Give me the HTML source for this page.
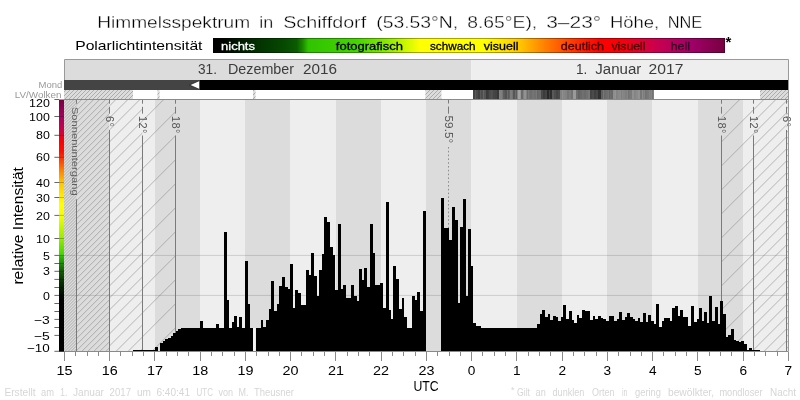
<!DOCTYPE html><html><head><meta charset="utf-8"><title>Himmelsspektrum</title>
<style>html,body{margin:0;padding:0;background:#fff;overflow:hidden}svg{display:block;will-change:transform}text{font-family:"Liberation Sans",sans-serif}</style>
</head><body>
<svg width="800" height="400" viewBox="0 0 800 400">
<defs>
<linearGradient id="lg" x1="0" x2="1" y1="0" y2="0"><stop offset="0" stop-color="#000000"/><stop offset="0.02" stop-color="#000400"/><stop offset="0.053" stop-color="#011c00"/><stop offset="0.092" stop-color="#033400"/><stop offset="0.14" stop-color="#064a00"/><stop offset="0.164" stop-color="#0a5c00"/><stop offset="0.176" stop-color="#1c8c00"/><stop offset="0.186" stop-color="#30c400"/><stop offset="0.28" stop-color="#44d400"/><stop offset="0.344" stop-color="#90ec00"/><stop offset="0.375" stop-color="#c8f800"/><stop offset="0.404" stop-color="#ffff00"/><stop offset="0.53" stop-color="#ffff00"/><stop offset="0.598" stop-color="#ffc800"/><stop offset="0.648" stop-color="#ff8000"/><stop offset="0.71" stop-color="#ff3000"/><stop offset="0.756" stop-color="#ff0000"/><stop offset="0.795" stop-color="#f80008"/><stop offset="0.832" stop-color="#e00030"/><stop offset="0.869" stop-color="#c80050"/><stop offset="0.934" stop-color="#a00068"/><stop offset="1" stop-color="#780040"/></linearGradient>
<pattern id="h0" width="4" height="4" patternUnits="userSpaceOnUse" patternTransform="translate(0 0)"><path d="M-1 5 L5 -1 M-1 1 L1 -1 M3 5 L5 3" stroke="#8c8c8c" stroke-width="0.6" fill="none"/></pattern>
<pattern id="hA" width="3" height="3" patternUnits="userSpaceOnUse" patternTransform="translate(2.4 0)"><path d="M-1 4 L4 -1 M-1 1 L1 -1 M2 4 L4 2" stroke="#8c8c8c" stroke-width="0.6" fill="none"/></pattern>
<pattern id="h1" width="6" height="6" patternUnits="userSpaceOnUse" patternTransform="translate(1.2 0)"><path d="M-1 7 L7 -1 M-1 1 L1 -1 M5 7 L7 5" stroke="#8c8c8c" stroke-width="0.6" fill="none"/></pattern>
<pattern id="h2" width="12" height="12" patternUnits="userSpaceOnUse" patternTransform="translate(11.4 0)"><path d="M-1 13 L13 -1 M-1 1 L1 -1 M11 13 L13 11" stroke="#8c8c8c" stroke-width="0.6" fill="none"/></pattern>
<pattern id="h3" width="24" height="24" patternUnits="userSpaceOnUse" patternTransform="translate(23.3 0)"><path d="M-1 25 L25 -1 M-1 1 L1 -1 M23 25 L25 23" stroke="#8c8c8c" stroke-width="0.6" fill="none"/></pattern>
</defs>
<rect width="800" height="400" fill="#fff"/>
<text x="97.2" y="28" font-size="17" fill="#000" text-anchor="start" textLength="153" lengthAdjust="spacingAndGlyphs" stroke="#fff" stroke-width="0.35">Himmelsspektrum</text>
<text x="259.2" y="28" font-size="17" fill="#000" text-anchor="start" textLength="14" lengthAdjust="spacingAndGlyphs" stroke="#fff" stroke-width="0.35">in</text>
<text x="283.2" y="28" font-size="17" fill="#000" text-anchor="start" textLength="83" lengthAdjust="spacingAndGlyphs" stroke="#fff" stroke-width="0.35">Schiffdorf</text>
<text x="376.2" y="28" font-size="17" fill="#000" text-anchor="start" textLength="82" lengthAdjust="spacingAndGlyphs" stroke="#fff" stroke-width="0.35">(53.53°N,</text>
<text x="467.2" y="28" font-size="17" fill="#000" text-anchor="start" textLength="70" lengthAdjust="spacingAndGlyphs" stroke="#fff" stroke-width="0.35">8.65°E),</text>
<text x="546.2" y="28" font-size="17" fill="#000" text-anchor="start" textLength="55" lengthAdjust="spacingAndGlyphs" stroke="#fff" stroke-width="0.35">3–23°</text>
<text x="610.0" y="28" font-size="17" fill="#000" text-anchor="start" textLength="49.2" lengthAdjust="spacingAndGlyphs" stroke="#fff" stroke-width="0.35">Höhe,</text>
<text x="667.7" y="28" font-size="17" fill="#000" text-anchor="start" textLength="34.5" lengthAdjust="spacingAndGlyphs" stroke="#fff" stroke-width="0.35">NNE</text>
<text x="75.2" y="50" font-size="13.6" fill="#000" text-anchor="start" textLength="127.3" lengthAdjust="spacingAndGlyphs">Polarlichtintensität</text>
<rect x="213" y="38" width="512" height="15" fill="url(#lg)"/>
<rect x="213.5" y="38.5" width="511" height="14" fill="none" stroke="#000" stroke-opacity="0.35" stroke-width="1"/>
<text x="221" y="49.8" font-size="11.2" fill="#fff" text-anchor="start" textLength="34" lengthAdjust="spacingAndGlyphs" stroke="#fff" stroke-width="0.3">nichts</text>
<text x="335.8" y="49.8" font-size="11.2" fill="#000" text-anchor="start" textLength="67.2" lengthAdjust="spacingAndGlyphs" stroke="#000" stroke-width="0.3">fotografisch</text>
<text x="430" y="49.8" font-size="11.2" fill="#000" text-anchor="start" textLength="45.5" lengthAdjust="spacingAndGlyphs" stroke="#000" stroke-width="0.3">schwach</text>
<text x="483.8" y="49.8" font-size="11.2" fill="#000" text-anchor="start" textLength="34.7" lengthAdjust="spacingAndGlyphs" stroke="#000" stroke-width="0.3">visuell</text>
<text x="560.8" y="49.8" font-size="11.2" fill="#4a0000" text-anchor="start" textLength="43.2" lengthAdjust="spacingAndGlyphs" stroke="#4a0000" stroke-width="0.3">deutlich</text>
<text x="611.5" y="49.8" font-size="11.2" fill="#4a0000" text-anchor="start" textLength="34.0" lengthAdjust="spacingAndGlyphs" stroke="#4a0000" stroke-width="0.3">visuell</text>
<text x="670.7" y="49.8" font-size="11.2" fill="#380024" text-anchor="start" textLength="19.3" lengthAdjust="spacingAndGlyphs" stroke="#380024" stroke-width="0.3">hell</text>
<text x="725.4" y="47.2" font-size="15" fill="#000" text-anchor="start" font-weight="bold">*</text>
<rect x="64" y="60" width="407.25" height="20" fill="#dcdcdc"/>
<rect x="471.25" y="60" width="316.75" height="20" fill="#eeeeee"/>
<path d="M64.5 80 V59.5 H788.5 V99.5" fill="none" stroke="#999" stroke-width="1"/>
<text x="198" y="74" font-size="13.8" fill="#3c3c3c" text-anchor="start" textLength="19" lengthAdjust="spacingAndGlyphs">31.</text>
<text x="228" y="74" font-size="13.8" fill="#3c3c3c" text-anchor="start" textLength="66" lengthAdjust="spacingAndGlyphs">Dezember</text>
<text x="303" y="74" font-size="13.8" fill="#3c3c3c" text-anchor="start" textLength="34" lengthAdjust="spacingAndGlyphs">2016</text>
<text x="576" y="74" font-size="13.8" fill="#3c3c3c" text-anchor="start" textLength="11.299999999999955" lengthAdjust="spacingAndGlyphs">1.</text>
<text x="595.3" y="74" font-size="13.8" fill="#3c3c3c" text-anchor="start" textLength="46.0" lengthAdjust="spacingAndGlyphs">Januar</text>
<text x="648.6" y="74" font-size="13.8" fill="#3c3c3c" text-anchor="start" textLength="34.799999999999955" lengthAdjust="spacingAndGlyphs">2017</text>
<rect x="64" y="80" width="135.4" height="10" fill="#444"/>
<rect x="199.4" y="80" width="588.6" height="10" fill="#000"/>
<path d="M189.6 85 L199.6 80.6 V89.4 Z" fill="#fff" stroke="#000" stroke-width="0.6"/>
<text x="62.3" y="87.8" font-size="9.5" fill="#999" text-anchor="end">Mond</text>
<text x="61.5" y="97.6" font-size="9.5" fill="#999" text-anchor="end" textLength="46.7" lengthAdjust="spacingAndGlyphs">LV/Wolken</text>
<rect x="64" y="90" width="724" height="9.5" fill="#fff"/>
<rect x="64" y="90" width="69" height="9.5" fill="#dcdcdc"/>
<rect x="64" y="90" width="69" height="9.5" fill="url(#h0)"/>
<rect x="157.5" y="90" width="2.0" height="9.5" fill="#dcdcdc"/>
<rect x="157.5" y="90" width="2.0" height="9.5" fill="url(#h0)"/>
<rect x="253" y="90" width="2.5" height="9.5" fill="#dcdcdc"/>
<rect x="253" y="90" width="2.5" height="9.5" fill="url(#h0)"/>
<rect x="425.4" y="90" width="16.0" height="9.5" fill="#dcdcdc"/>
<rect x="425.4" y="90" width="16.0" height="9.5" fill="url(#h0)"/>
<rect x="760" y="90" width="28" height="9.5" fill="#dcdcdc"/>
<rect x="760" y="90" width="28" height="9.5" fill="url(#h0)"/>
<rect x="473.0" y="90" width="2.8" height="9.3" fill="#444444"/>
<rect x="475.5" y="90" width="2.8" height="9.3" fill="#4a4a4a"/>
<rect x="478.0" y="90" width="2.8" height="9.3" fill="#3f3f3f"/>
<rect x="480.5" y="90" width="3.05" height="9.3" fill="#4e4e4e"/>
<rect x="483.25" y="90" width="3.05" height="9.3" fill="#545454"/>
<rect x="486.0" y="90" width="3.05" height="9.3" fill="#3a3a3a"/>
<rect x="488.75" y="90" width="2.3" height="9.3" fill="#4b4b4b"/>
<rect x="490.75" y="90" width="2.3" height="9.3" fill="#525252"/>
<rect x="492.75" y="90" width="2.3" height="9.3" fill="#464646"/>
<rect x="494.75" y="90" width="2.55" height="9.3" fill="#434343"/>
<rect x="497.0" y="90" width="2.55" height="9.3" fill="#383838"/>
<rect x="499.25" y="90" width="3.3" height="9.3" fill="#808080"/>
<rect x="502.25" y="90" width="2.8" height="9.3" fill="#5e5e5e"/>
<rect x="504.75" y="90" width="2.8" height="9.3" fill="#535353"/>
<rect x="507.25" y="90" width="2.8" height="9.3" fill="#5a5a5a"/>
<rect x="509.75" y="90" width="3.3" height="9.3" fill="#7c7c7c"/>
<rect x="512.75" y="90" width="2.719999999999959" height="9.3" fill="#575757"/>
<rect x="515.17" y="90" width="2.7300000000000635" height="9.3" fill="#5d5d5d"/>
<rect x="517.6" y="90" width="1.9999999999999318" height="9.3" fill="#a2a2a2"/>
<rect x="519.3" y="90" width="2.0000000000000453" height="9.3" fill="#969696"/>
<rect x="521.0" y="90" width="2.9000000000000226" height="9.3" fill="#6a6a6a"/>
<rect x="523.6" y="90" width="2.949999999999977" height="9.3" fill="#929292"/>
<rect x="526.25" y="90" width="2.1700000000000044" height="9.3" fill="#6c6c6c"/>
<rect x="528.12" y="90" width="2.1799999999999953" height="9.3" fill="#727272"/>
<rect x="530.0" y="90" width="2.3" height="9.3" fill="#6d6d6d"/>
<rect x="532.0" y="90" width="2.3" height="9.3" fill="#747474"/>
<rect x="534.0" y="90" width="2.6300000000000407" height="9.3" fill="#707070"/>
<rect x="536.33" y="90" width="2.639999999999918" height="9.3" fill="#656565"/>
<rect x="538.67" y="90" width="2.6300000000000407" height="9.3" fill="#6b6b6b"/>
<rect x="541.0" y="90" width="2.3" height="9.3" fill="#484848"/>
<rect x="543.0" y="90" width="2.3" height="9.3" fill="#3c3c3c"/>
<rect x="545.0" y="90" width="2.3" height="9.3" fill="#434343"/>
<rect x="547.0" y="90" width="2.8" height="9.3" fill="#282828"/>
<rect x="549.5" y="90" width="2.8" height="9.3" fill="#2e2e2e"/>
<rect x="552.0" y="90" width="2.3" height="9.3" fill="#595959"/>
<rect x="554.0" y="90" width="2.3" height="9.3" fill="#4e4e4e"/>
<rect x="556.0" y="90" width="2.3" height="9.3" fill="#444444"/>
<rect x="558.0" y="90" width="2.3" height="9.3" fill="#4a4a4a"/>
<rect x="560.0" y="90" width="2.8" height="9.3" fill="#808080"/>
<rect x="562.5" y="90" width="2.8" height="9.3" fill="#868686"/>
<rect x="565.0" y="90" width="2.3" height="9.3" fill="#828282"/>
<rect x="567.0" y="90" width="2.3" height="9.3" fill="#767676"/>
<rect x="569.0" y="90" width="2.3" height="9.3" fill="#7d7d7d"/>
<rect x="571.0" y="90" width="2.3" height="9.3" fill="#727272"/>
<rect x="573.0" y="90" width="3.3" height="9.3" fill="#9a9a9a"/>
<rect x="576.0" y="90" width="2.3" height="9.3" fill="#6e6e6e"/>
<rect x="578.0" y="90" width="2.3" height="9.3" fill="#636363"/>
<rect x="580.0" y="90" width="2.3" height="9.3" fill="#6a6a6a"/>
<rect x="582.0" y="90" width="2.3" height="9.3" fill="#707070"/>
<rect x="584.0" y="90" width="2.3" height="9.3" fill="#6b6b6b"/>
<rect x="586.0" y="90" width="2.3" height="9.3" fill="#717171"/>
<rect x="588.0" y="90" width="2.3" height="9.3" fill="#787878"/>
<rect x="590.0" y="90" width="2.3" height="9.3" fill="#444444"/>
<rect x="592.0" y="90" width="2.3" height="9.3" fill="#4b4b4b"/>
<rect x="594.0" y="90" width="2.3" height="9.3" fill="#404040"/>
<rect x="596.0" y="90" width="2.3" height="9.3" fill="#464646"/>
<rect x="598.0" y="90" width="3.3" height="9.3" fill="#303030"/>
<rect x="601.0" y="90" width="2.699999999999977" height="9.3" fill="#616161"/>
<rect x="603.4" y="90" width="2.699999999999977" height="9.3" fill="#686868"/>
<rect x="605.8" y="90" width="2.7000000000000908" height="9.3" fill="#6e6e6e"/>
<rect x="608.2" y="90" width="2.699999999999977" height="9.3" fill="#636363"/>
<rect x="610.6" y="90" width="2.699999999999977" height="9.3" fill="#696969"/>
<rect x="613.0" y="90" width="2.699999999999977" height="9.3" fill="#8e8e8e"/>
<rect x="615.4" y="90" width="2.699999999999977" height="9.3" fill="#828282"/>
<rect x="617.8" y="90" width="2.7000000000000908" height="9.3" fill="#898989"/>
<rect x="620.2" y="90" width="2.699999999999977" height="9.3" fill="#7e7e7e"/>
<rect x="622.6" y="90" width="2.699999999999977" height="9.3" fill="#848484"/>
<rect x="625.0" y="90" width="2.6300000000000407" height="9.3" fill="#7e7e7e"/>
<rect x="627.33" y="90" width="2.639999999999918" height="9.3" fill="#737373"/>
<rect x="629.67" y="90" width="2.6300000000000407" height="9.3" fill="#7a7a7a"/>
<rect x="632.0" y="90" width="2.3" height="9.3" fill="#909090"/>
<rect x="634.0" y="90" width="2.3" height="9.3" fill="#858585"/>
<rect x="636.0" y="90" width="2.3" height="9.3" fill="#8b8b8b"/>
<rect x="638.0" y="90" width="2.3" height="9.3" fill="#929292"/>
<rect x="640.0" y="90" width="2.5699999999999816" height="9.3" fill="#767676"/>
<rect x="642.27" y="90" width="2.5599999999999907" height="9.3" fill="#7d7d7d"/>
<rect x="644.53" y="90" width="2.5699999999999816" height="9.3" fill="#727272"/>
<rect x="646.8" y="90" width="2.5700000000000953" height="9.3" fill="#787878"/>
<rect x="649.07" y="90" width="2.5599999999999907" height="9.3" fill="#7e7e7e"/>
<rect x="651.33" y="90" width="2.5699999999999816" height="9.3" fill="#737373"/>
<g shape-rendering="crispEdges">
<rect x="64.00" y="99.5" width="45.55" height="252.0" fill="#dcdcdc"/>
<rect x="109.25" y="99.5" width="45.55" height="252.0" fill="#eeeeee"/>
<rect x="154.50" y="99.5" width="45.55" height="252.0" fill="#dcdcdc"/>
<rect x="199.75" y="99.5" width="45.55" height="252.0" fill="#eeeeee"/>
<rect x="245.00" y="99.5" width="45.55" height="252.0" fill="#dcdcdc"/>
<rect x="290.25" y="99.5" width="45.55" height="252.0" fill="#eeeeee"/>
<rect x="335.50" y="99.5" width="45.55" height="252.0" fill="#dcdcdc"/>
<rect x="380.75" y="99.5" width="45.55" height="252.0" fill="#eeeeee"/>
<rect x="426.00" y="99.5" width="45.55" height="252.0" fill="#dcdcdc"/>
<rect x="471.25" y="99.5" width="45.55" height="252.0" fill="#eeeeee"/>
<rect x="516.50" y="99.5" width="45.55" height="252.0" fill="#dcdcdc"/>
<rect x="561.75" y="99.5" width="45.55" height="252.0" fill="#eeeeee"/>
<rect x="607.00" y="99.5" width="45.55" height="252.0" fill="#dcdcdc"/>
<rect x="652.25" y="99.5" width="45.55" height="252.0" fill="#eeeeee"/>
<rect x="697.50" y="99.5" width="45.55" height="252.0" fill="#dcdcdc"/>
<rect x="742.75" y="99.5" width="45.55" height="252.0" fill="#eeeeee"/>
</g>
<rect x="64" y="99.5" width="12.5" height="252.0" fill="url(#hA)"/>
<rect x="76.5" y="99.5" width="32.900000000000006" height="252.0" fill="url(#h1)"/>
<rect x="109.4" y="99.5" width="32.900000000000006" height="252.0" fill="url(#h2)"/>
<rect x="142.3" y="99.5" width="33.099999999999994" height="252.0" fill="url(#h3)"/>
<rect x="721.4" y="99.5" width="32.10000000000002" height="252.0" fill="url(#h3)"/>
<rect x="753.5" y="99.5" width="33.0" height="252.0" fill="url(#h2)"/>
<rect x="786.5" y="99.5" width="1.5" height="252.0" fill="url(#h1)"/>
<line x1="64" x2="788" y1="255.4" y2="255.4" stroke="#000" stroke-opacity="0.14" stroke-width="1"/>
<line x1="64" x2="788" y1="295.4" y2="295.4" stroke="#000" stroke-opacity="0.14" stroke-width="1"/>
<path d="M109.5 99.5 V103.7 M109.5 106.8 V113.6 M109.5 130 V351.5" stroke="#7a7a7a" stroke-width="1" fill="none"/>
<text transform="translate(105.7 116.1) rotate(90)" font-size="11" fill="#555" letter-spacing="0.3">6°</text>
<path d="M786.5 99.5 V103.7 M786.5 106.8 V113.6 M786.5 130 V351.5" stroke="#7a7a7a" stroke-width="1" fill="none"/>
<text transform="translate(782.7 116.1) rotate(90)" font-size="11" fill="#555" letter-spacing="0.3">6°</text>
<path d="M142.5 99.5 V103.7 M142.5 106.8 V113.6 M142.5 135.5 V351.5" stroke="#7a7a7a" stroke-width="1" fill="none"/>
<text transform="translate(138.7 116.1) rotate(90)" font-size="11" fill="#555" letter-spacing="0.3">12°</text>
<path d="M753.5 99.5 V103.7 M753.5 106.8 V113.6 M753.5 135.5 V351.5" stroke="#7a7a7a" stroke-width="1" fill="none"/>
<text transform="translate(749.7 116.1) rotate(90)" font-size="11" fill="#555" letter-spacing="0.3">12°</text>
<path d="M175.5 99.5 V103.7 M175.5 106.8 V113.6 M175.5 135.5 V351.5" stroke="#7a7a7a" stroke-width="1" fill="none"/>
<text transform="translate(171.7 116.1) rotate(90)" font-size="11" fill="#555" letter-spacing="0.3">18°</text>
<path d="M721.5 99.5 V103.7 M721.5 106.8 V113.6 M721.5 135.5 V351.5" stroke="#7a7a7a" stroke-width="1" fill="none"/>
<text transform="translate(717.7 116.1) rotate(90)" font-size="11" fill="#555" letter-spacing="0.3">18°</text>
<path d="M76.5 99.5 V103.7 M76.5 199.4 V351.5" stroke="#7a7a7a" stroke-width="1" fill="none"/>
<text transform="translate(71.9 106.9) rotate(90)" font-size="9.7" fill="#5e5e5e" textLength="88.7" lengthAdjust="spacingAndGlyphs">Sonnenuntergang</text>
<path d="M448.5 99.5 V103.5 M448.5 106.5 V113.7" stroke="#7a7a7a" stroke-width="1" fill="none"/>
<path d="M448.5 147 V351.5" stroke="#7a7a7a" stroke-width="0.8" stroke-dasharray="1.6 2.2" fill="none"/>
<text transform="translate(445 115.6) rotate(90)" font-size="11" fill="#555" textLength="27.5" lengthAdjust="spacingAndGlyphs">59.5°</text>
<rect x="253" y="328" width="2.6" height="23.5" fill="#f4f4f4"/>
<g fill="#000" shape-rendering="crispEdges">
<rect x="133.00" y="349.70" width="21.55" height="2.10"/>
<rect x="154.50" y="347.00" width="3.05" height="4.80"/>
<rect x="160.00" y="342.50" width="2.55" height="9.30"/>
<rect x="162.50" y="341.00" width="2.55" height="10.80"/>
<rect x="165.00" y="339.40" width="2.55" height="12.40"/>
<rect x="167.50" y="338.00" width="3.15" height="13.80"/>
<rect x="170.60" y="335.60" width="2.45" height="16.20"/>
<rect x="173.00" y="333.00" width="2.65" height="18.80"/>
<rect x="175.60" y="330.60" width="2.45" height="21.20"/>
<rect x="178.00" y="328.75" width="3.30" height="23.05"/>
<rect x="181.25" y="328.00" width="18.40" height="23.80"/>
<rect x="199.60" y="321.00" width="3.05" height="30.80"/>
<rect x="202.60" y="328.00" width="13.05" height="23.80"/>
<rect x="215.60" y="323.60" width="3.05" height="28.20"/>
<rect x="218.60" y="328.00" width="5.45" height="23.80"/>
<rect x="224.00" y="232.00" width="2.65" height="119.80"/>
<rect x="226.60" y="300.40" width="2.85" height="51.40"/>
<rect x="229.40" y="328.00" width="2.65" height="23.80"/>
<rect x="232.00" y="322.00" width="2.45" height="29.80"/>
<rect x="234.40" y="316.00" width="2.65" height="35.80"/>
<rect x="237.00" y="326.60" width="2.45" height="25.20"/>
<rect x="239.40" y="317.00" width="2.65" height="34.80"/>
<rect x="242.00" y="328.00" width="3.05" height="23.80"/>
<rect x="245.00" y="261.00" width="2.65" height="90.80"/>
<rect x="247.60" y="304.40" width="2.45" height="47.40"/>
<rect x="250.00" y="328.00" width="3.05" height="23.80"/>
<rect x="255.60" y="328.00" width="5.05" height="23.80"/>
<rect x="260.60" y="319.60" width="2.85" height="32.20"/>
<rect x="263.40" y="326.60" width="2.65" height="25.20"/>
<rect x="266.00" y="320.00" width="2.80" height="31.80"/>
<rect x="268.75" y="309.00" width="2.55" height="42.80"/>
<rect x="271.25" y="281.25" width="2.90" height="70.55"/>
<rect x="274.10" y="311.00" width="2.85" height="40.80"/>
<rect x="276.90" y="304.00" width="2.55" height="47.80"/>
<rect x="279.40" y="285.90" width="2.90" height="65.90"/>
<rect x="282.25" y="277.10" width="2.55" height="74.70"/>
<rect x="284.75" y="286.90" width="2.80" height="64.90"/>
<rect x="287.50" y="288.50" width="2.80" height="63.30"/>
<rect x="290.25" y="263.75" width="2.90" height="88.05"/>
<rect x="293.10" y="307.90" width="2.35" height="43.90"/>
<rect x="295.40" y="290.00" width="2.75" height="61.80"/>
<rect x="298.10" y="292.90" width="2.95" height="58.90"/>
<rect x="301.00" y="305.00" width="5.05" height="46.80"/>
<rect x="306.00" y="270.40" width="3.05" height="81.40"/>
<rect x="309.00" y="274.60" width="2.30" height="77.20"/>
<rect x="311.25" y="253.00" width="2.80" height="98.80"/>
<rect x="314.00" y="276.25" width="2.55" height="75.55"/>
<rect x="316.50" y="296.25" width="2.55" height="55.55"/>
<rect x="319.00" y="270.00" width="2.95" height="81.80"/>
<rect x="321.90" y="254.40" width="2.55" height="97.40"/>
<rect x="324.40" y="216.60" width="3.05" height="135.20"/>
<rect x="327.40" y="222.40" width="2.65" height="129.40"/>
<rect x="330.00" y="247.40" width="2.65" height="104.40"/>
<rect x="332.60" y="255.00" width="2.85" height="96.80"/>
<rect x="335.40" y="289.60" width="2.75" height="62.20"/>
<rect x="338.10" y="224.40" width="2.55" height="127.40"/>
<rect x="340.60" y="288.75" width="2.55" height="63.05"/>
<rect x="343.10" y="285.00" width="2.95" height="66.80"/>
<rect x="346.00" y="298.10" width="5.05" height="53.70"/>
<rect x="351.00" y="285.40" width="2.80" height="66.40"/>
<rect x="353.75" y="296.25" width="2.90" height="55.55"/>
<rect x="356.60" y="300.90" width="2.55" height="50.90"/>
<rect x="359.10" y="268.60" width="2.95" height="83.20"/>
<rect x="362.00" y="279.60" width="2.45" height="72.20"/>
<rect x="364.40" y="268.00" width="2.65" height="83.80"/>
<rect x="367.00" y="287.00" width="2.65" height="64.80"/>
<rect x="369.60" y="224.00" width="3.05" height="127.80"/>
<rect x="372.60" y="253.00" width="2.45" height="98.80"/>
<rect x="375.00" y="285.00" width="5.05" height="66.80"/>
<rect x="380.00" y="283.00" width="3.05" height="68.80"/>
<rect x="383.00" y="307.60" width="3.05" height="44.20"/>
<rect x="386.00" y="202.00" width="2.65" height="149.80"/>
<rect x="388.60" y="310.00" width="2.45" height="41.80"/>
<rect x="391.00" y="318.60" width="2.65" height="33.20"/>
<rect x="393.20" y="266.00" width="3.05" height="85.80"/>
<rect x="396.00" y="279.00" width="3.05" height="72.80"/>
<rect x="399.00" y="309.00" width="2.65" height="42.80"/>
<rect x="401.60" y="298.00" width="2.45" height="53.80"/>
<rect x="404.00" y="317.00" width="3.05" height="34.80"/>
<rect x="407.00" y="327.60" width="5.05" height="24.20"/>
<rect x="412.00" y="295.60" width="3.05" height="56.20"/>
<rect x="415.00" y="300.40" width="2.45" height="51.40"/>
<rect x="417.40" y="292.00" width="2.65" height="59.80"/>
<rect x="420.00" y="311.40" width="2.65" height="40.40"/>
<rect x="422.60" y="210.60" width="3.05" height="141.20"/>
<rect x="441.40" y="197.60" width="2.65" height="154.20"/>
<rect x="444.00" y="227.60" width="5.45" height="124.20"/>
<rect x="449.40" y="239.60" width="2.65" height="112.20"/>
<rect x="452.00" y="207.40" width="3.05" height="144.40"/>
<rect x="455.00" y="220.00" width="2.65" height="131.80"/>
<rect x="457.60" y="302.60" width="2.45" height="49.20"/>
<rect x="460.00" y="227.00" width="3.05" height="124.80"/>
<rect x="463.00" y="199.40" width="2.65" height="152.40"/>
<rect x="465.60" y="295.60" width="2.45" height="56.20"/>
<rect x="468.00" y="229.40" width="2.65" height="122.40"/>
<rect x="470.60" y="266.00" width="2.45" height="85.80"/>
<rect x="473.00" y="322.60" width="3.05" height="29.20"/>
<rect x="476.00" y="326.00" width="5.05" height="25.80"/>
<rect x="481.00" y="328.00" width="56.05" height="23.80"/>
<rect x="537.00" y="323.60" width="2.65" height="28.20"/>
<rect x="539.60" y="314.40" width="2.45" height="37.40"/>
<rect x="542.00" y="310.40" width="3.05" height="41.40"/>
<rect x="545.00" y="317.00" width="2.65" height="34.80"/>
<rect x="547.60" y="314.00" width="2.45" height="37.80"/>
<rect x="550.00" y="320.00" width="2.65" height="31.80"/>
<rect x="552.60" y="315.60" width="3.05" height="36.20"/>
<rect x="555.60" y="317.00" width="2.45" height="34.80"/>
<rect x="558.00" y="320.60" width="3.05" height="31.20"/>
<rect x="561.00" y="317.00" width="2.45" height="34.80"/>
<rect x="563.40" y="304.60" width="2.65" height="47.20"/>
<rect x="566.00" y="319.40" width="2.65" height="32.40"/>
<rect x="568.60" y="311.00" width="3.05" height="40.80"/>
<rect x="571.60" y="320.00" width="2.45" height="31.80"/>
<rect x="574.00" y="322.60" width="2.65" height="29.20"/>
<rect x="576.60" y="315.00" width="2.85" height="36.80"/>
<rect x="579.40" y="318.00" width="2.65" height="33.80"/>
<rect x="582.00" y="310.00" width="3.05" height="41.80"/>
<rect x="585.00" y="311.40" width="5.05" height="40.40"/>
<rect x="590.00" y="319.60" width="2.65" height="32.20"/>
<rect x="592.60" y="316.40" width="2.85" height="35.40"/>
<rect x="595.40" y="319.40" width="2.65" height="32.40"/>
<rect x="598.00" y="316.00" width="3.05" height="35.80"/>
<rect x="601.00" y="317.60" width="2.45" height="34.20"/>
<rect x="603.40" y="319.00" width="2.65" height="32.80"/>
<rect x="606.00" y="321.40" width="2.65" height="30.40"/>
<rect x="608.60" y="315.60" width="5.45" height="36.20"/>
<rect x="614.00" y="321.40" width="2.65" height="30.40"/>
<rect x="616.60" y="319.00" width="2.45" height="32.80"/>
<rect x="619.00" y="312.00" width="3.05" height="39.80"/>
<rect x="622.00" y="320.00" width="2.65" height="31.80"/>
<rect x="624.60" y="317.40" width="2.45" height="34.40"/>
<rect x="627.00" y="313.40" width="3.05" height="38.40"/>
<rect x="630.00" y="316.60" width="2.65" height="35.20"/>
<rect x="632.60" y="318.60" width="2.45" height="33.20"/>
<rect x="635.00" y="320.60" width="2.65" height="31.20"/>
<rect x="637.60" y="318.40" width="2.85" height="33.40"/>
<rect x="640.40" y="322.00" width="2.65" height="29.80"/>
<rect x="643.00" y="313.00" width="3.05" height="38.80"/>
<rect x="646.00" y="321.60" width="2.45" height="30.20"/>
<rect x="648.40" y="315.40" width="2.65" height="36.40"/>
<rect x="651.00" y="320.60" width="2.65" height="31.20"/>
<rect x="653.60" y="323.60" width="2.85" height="28.20"/>
<rect x="656.40" y="304.00" width="3.05" height="47.80"/>
<rect x="659.40" y="327.00" width="2.65" height="24.80"/>
<rect x="662.00" y="321.00" width="2.45" height="30.80"/>
<rect x="664.40" y="317.60" width="5.65" height="34.20"/>
<rect x="670.00" y="321.00" width="2.45" height="30.80"/>
<rect x="672.40" y="308.40" width="2.65" height="43.40"/>
<rect x="675.00" y="305.60" width="3.05" height="46.20"/>
<rect x="678.00" y="315.60" width="2.45" height="36.20"/>
<rect x="680.40" y="310.00" width="3.05" height="41.80"/>
<rect x="683.40" y="316.60" width="5.05" height="35.20"/>
<rect x="688.40" y="325.60" width="2.65" height="26.20"/>
<rect x="691.00" y="306.00" width="3.05" height="45.80"/>
<rect x="694.00" y="321.60" width="2.65" height="30.20"/>
<rect x="696.60" y="318.60" width="2.45" height="33.20"/>
<rect x="699.00" y="308.00" width="2.65" height="43.80"/>
<rect x="701.60" y="321.00" width="2.85" height="30.80"/>
<rect x="704.40" y="312.40" width="2.65" height="39.40"/>
<rect x="707.00" y="322.60" width="2.45" height="29.20"/>
<rect x="709.40" y="296.00" width="3.05" height="55.80"/>
<rect x="712.40" y="321.00" width="2.65" height="30.80"/>
<rect x="715.00" y="307.00" width="2.65" height="44.80"/>
<rect x="717.60" y="324.40" width="2.45" height="27.40"/>
<rect x="720.00" y="300.60" width="3.05" height="51.20"/>
<rect x="723.00" y="314.00" width="2.65" height="37.80"/>
<rect x="725.60" y="337.00" width="2.85" height="14.80"/>
<rect x="728.40" y="335.00" width="2.65" height="16.80"/>
<rect x="731.00" y="329.40" width="2.65" height="22.40"/>
<rect x="733.60" y="340.00" width="2.45" height="11.80"/>
<rect x="736.00" y="341.00" width="3.05" height="10.80"/>
<rect x="739.00" y="342.00" width="2.45" height="9.80"/>
<rect x="741.40" y="341.00" width="2.65" height="10.80"/>
<rect x="744.00" y="344.40" width="3.05" height="7.40"/>
<rect x="747.00" y="350.40" width="2.45" height="1.40"/>
<rect x="749.40" y="348.40" width="2.65" height="3.40"/>
<rect x="752.00" y="349.60" width="3.05" height="2.20"/>
<rect x="755.00" y="350.40" width="5.45" height="1.40"/>
</g>
<path d="M64 99.5 H788" stroke="#8a8a8a" stroke-width="1" fill="none"/>
<path d="M64 351.5 H788.5" stroke="#8a8a8a" stroke-width="1" fill="none"/>
<path d="M788.5 99 V351.5" stroke="#999" stroke-width="1" fill="none"/>
<path d="M64.40 351.5 v9.5 M75.71 351.5 v4.8 M87.03 351.5 v4.8 M98.34 351.5 v4.8 M109.65 351.5 v9.5 M120.96 351.5 v4.8 M132.28 351.5 v4.8 M143.59 351.5 v4.8 M154.90 351.5 v9.5 M166.21 351.5 v4.8 M177.53 351.5 v4.8 M188.84 351.5 v4.8 M200.15 351.5 v9.5 M211.46 351.5 v4.8 M222.78 351.5 v4.8 M234.09 351.5 v4.8 M245.40 351.5 v9.5 M256.71 351.5 v4.8 M268.02 351.5 v4.8 M279.34 351.5 v4.8 M290.65 351.5 v9.5 M301.96 351.5 v4.8 M313.27 351.5 v4.8 M324.59 351.5 v4.8 M335.90 351.5 v9.5 M347.21 351.5 v4.8 M358.52 351.5 v4.8 M369.84 351.5 v4.8 M381.15 351.5 v9.5 M392.46 351.5 v4.8 M403.77 351.5 v4.8 M415.09 351.5 v4.8 M426.40 351.5 v9.5 M437.71 351.5 v4.8 M449.02 351.5 v4.8 M460.34 351.5 v4.8 M471.65 351.5 v9.5 M482.96 351.5 v4.8 M494.27 351.5 v4.8 M505.59 351.5 v4.8 M516.90 351.5 v9.5 M528.21 351.5 v4.8 M539.52 351.5 v4.8 M550.84 351.5 v4.8 M562.15 351.5 v9.5 M573.46 351.5 v4.8 M584.77 351.5 v4.8 M596.09 351.5 v4.8 M607.40 351.5 v9.5 M618.71 351.5 v4.8 M630.02 351.5 v4.8 M641.34 351.5 v4.8 M652.65 351.5 v9.5 M663.96 351.5 v4.8 M675.27 351.5 v4.8 M686.59 351.5 v4.8 M697.90 351.5 v9.5 M709.21 351.5 v4.8 M720.52 351.5 v4.8 M731.84 351.5 v4.8 M743.15 351.5 v9.5 M754.46 351.5 v4.8 M765.77 351.5 v4.8 M777.09 351.5 v4.8 M788.40 351.5 v9.5 " stroke="#8a8a8a" stroke-width="1" fill="none" shape-rendering="crispEdges"/>
<text x="56.4" y="375.3" font-size="13.6" fill="#000" text-anchor="start" textLength="16" lengthAdjust="spacingAndGlyphs">15</text>
<text x="101.7" y="375.3" font-size="13.6" fill="#000" text-anchor="start" textLength="16" lengthAdjust="spacingAndGlyphs">16</text>
<text x="146.9" y="375.3" font-size="13.6" fill="#000" text-anchor="start" textLength="16" lengthAdjust="spacingAndGlyphs">17</text>
<text x="192.2" y="375.3" font-size="13.6" fill="#000" text-anchor="start" textLength="16" lengthAdjust="spacingAndGlyphs">18</text>
<text x="237.4" y="375.3" font-size="13.6" fill="#000" text-anchor="start" textLength="16" lengthAdjust="spacingAndGlyphs">19</text>
<text x="282.6" y="375.3" font-size="13.6" fill="#000" text-anchor="start" textLength="16" lengthAdjust="spacingAndGlyphs">20</text>
<text x="327.9" y="375.3" font-size="13.6" fill="#000" text-anchor="start" textLength="16" lengthAdjust="spacingAndGlyphs">21</text>
<text x="373.1" y="375.3" font-size="13.6" fill="#000" text-anchor="start" textLength="16" lengthAdjust="spacingAndGlyphs">22</text>
<text x="418.4" y="375.3" font-size="13.6" fill="#000" text-anchor="start" textLength="16" lengthAdjust="spacingAndGlyphs">23</text>
<text x="467.8" y="375.3" font-size="13.6" fill="#000" text-anchor="start" textLength="7.6" lengthAdjust="spacingAndGlyphs">0</text>
<text x="513.1" y="375.3" font-size="13.6" fill="#000" text-anchor="start" textLength="7.6" lengthAdjust="spacingAndGlyphs">1</text>
<text x="558.4" y="375.3" font-size="13.6" fill="#000" text-anchor="start" textLength="7.6" lengthAdjust="spacingAndGlyphs">2</text>
<text x="603.6" y="375.3" font-size="13.6" fill="#000" text-anchor="start" textLength="7.6" lengthAdjust="spacingAndGlyphs">3</text>
<text x="648.9" y="375.3" font-size="13.6" fill="#000" text-anchor="start" textLength="7.6" lengthAdjust="spacingAndGlyphs">4</text>
<text x="694.1" y="375.3" font-size="13.6" fill="#000" text-anchor="start" textLength="7.6" lengthAdjust="spacingAndGlyphs">5</text>
<text x="739.4" y="375.3" font-size="13.6" fill="#000" text-anchor="start" textLength="7.6" lengthAdjust="spacingAndGlyphs">6</text>
<text x="784.6" y="375.3" font-size="13.6" fill="#000" text-anchor="start" textLength="7.6" lengthAdjust="spacingAndGlyphs">7</text>
<text x="413.4" y="391" font-size="13.8" fill="#000" text-anchor="start" textLength="25.2" lengthAdjust="spacingAndGlyphs">UTC</text>
<linearGradient id="vg" gradientUnits="userSpaceOnUse" x1="0" x2="0" y1="100" y2="351.5"><stop offset="0.0000" stop-color="#780040"/><stop offset="0.0656" stop-color="#a80060"/><stop offset="0.1193" stop-color="#cc0048"/><stop offset="0.1431" stop-color="#e80020"/><stop offset="0.1670" stop-color="#ff0000"/><stop offset="0.2068" stop-color="#ff1000"/><stop offset="0.2278" stop-color="#ff3000"/><stop offset="0.2783" stop-color="#ff8000"/><stop offset="0.3280" stop-color="#ffc400"/><stop offset="0.3877" stop-color="#fff000"/><stop offset="0.4135" stop-color="#ffff00"/><stop offset="0.4612" stop-color="#f4ff00"/><stop offset="0.5089" stop-color="#c0f400"/><stop offset="0.5507" stop-color="#98ec00"/><stop offset="0.5845" stop-color="#68e000"/><stop offset="0.6171" stop-color="#44d400"/><stop offset="0.6187" stop-color="#30c000"/><stop offset="0.6501" stop-color="#1c8c00"/><stop offset="0.6807" stop-color="#115c00"/><stop offset="0.7133" stop-color="#093a00"/><stop offset="0.7455" stop-color="#042000"/><stop offset="0.7769" stop-color="#000a00"/><stop offset="0.7952" stop-color="#000000"/><stop offset="1.0000" stop-color="#000000"/></linearGradient>
<rect x="59" y="99.8" width="5" height="251.9" fill="url(#vg)"/>
<path d="M54.4 99.5 H59 M54.4 116.5 H59 M54.4 135.3 H59 M54.4 157.3 H59 M54.4 182.5 H59 M54.4 197.5 H59 M54.4 215.4 H59 M54.4 238.5 H59 M54.4 255.4 H59 M54.4 271.3 H59 M54.4 295.4 H59 M54.4 319.4 H59 M54.4 335.4 H59 M54.4 351.3 H59 M54.4 263.5 H59 M54.4 279.4 H59 M54.4 287.5 H59 M54.4 303.5 H59 M54.4 311.5 H59 M54.4 327.5 H59 " stroke="#666" stroke-width="1" fill="none"/>
<path d="M59 99.5 H64 M59 116.5 H64 M59 135.3 H64 M59 157.3 H64 M59 182.5 H64 M59 197.5 H64 M59 215.4 H64 M59 238.5 H64 M59 255.4 H64 M59 271.3 H64 M59 295.4 H64 M59 319.4 H64 M59 335.4 H64 M59 351.3 H64 M59 263.5 H64 M59 279.4 H64 M59 287.5 H64 M59 303.5 H64 M59 311.5 H64 M59 327.5 H64 " stroke="#000" stroke-opacity="0.25" stroke-width="1" fill="none"/>
<text x="29.099999999999994" y="107" font-size="11.2" fill="#000" text-anchor="start" textLength="20.7" lengthAdjust="spacingAndGlyphs">120</text>
<text x="29.099999999999994" y="120.6" font-size="11.2" fill="#000" text-anchor="start" textLength="20.7" lengthAdjust="spacingAndGlyphs">100</text>
<text x="36.0" y="139.4" font-size="11.2" fill="#000" text-anchor="start" textLength="13.8" lengthAdjust="spacingAndGlyphs">80</text>
<text x="36.0" y="161.4" font-size="11.2" fill="#000" text-anchor="start" textLength="13.8" lengthAdjust="spacingAndGlyphs">60</text>
<text x="36.0" y="186.6" font-size="11.2" fill="#000" text-anchor="start" textLength="13.8" lengthAdjust="spacingAndGlyphs">40</text>
<text x="36.0" y="201.6" font-size="11.2" fill="#000" text-anchor="start" textLength="13.8" lengthAdjust="spacingAndGlyphs">30</text>
<text x="36.0" y="219.5" font-size="11.2" fill="#000" text-anchor="start" textLength="13.8" lengthAdjust="spacingAndGlyphs">20</text>
<text x="36.0" y="242.6" font-size="11.2" fill="#000" text-anchor="start" textLength="13.8" lengthAdjust="spacingAndGlyphs">10</text>
<text x="42.9" y="259.5" font-size="11.2" fill="#000" text-anchor="start" textLength="6.9" lengthAdjust="spacingAndGlyphs">5</text>
<text x="42.9" y="275.4" font-size="11.2" fill="#000" text-anchor="start" textLength="6.9" lengthAdjust="spacingAndGlyphs">3</text>
<text x="42.9" y="299.5" font-size="11.2" fill="#000" text-anchor="start" textLength="6.9" lengthAdjust="spacingAndGlyphs">0</text>
<text x="33.9" y="323.5" font-size="11.2" fill="#000" text-anchor="start" textLength="15.9" lengthAdjust="spacingAndGlyphs">−3</text>
<text x="33.9" y="339.5" font-size="11.2" fill="#000" text-anchor="start" textLength="15.9" lengthAdjust="spacingAndGlyphs">−5</text>
<text x="26.999999999999996" y="352" font-size="11.2" fill="#000" text-anchor="start" textLength="22.8" lengthAdjust="spacingAndGlyphs">−10</text>
<text transform="translate(23 284.6) rotate(-90)" font-size="14.2" fill="#000" textLength="117.5" lengthAdjust="spacingAndGlyphs">relative Intensität</text>
<text x="4.4" y="396" font-size="10" fill="#d6d6d6" text-anchor="start" textLength="31.2" lengthAdjust="spacingAndGlyphs">Erstellt</text>
<text x="41" y="396" font-size="10" fill="#d6d6d6" text-anchor="start" textLength="13" lengthAdjust="spacingAndGlyphs">am</text>
<text x="60.3" y="396" font-size="10" fill="#d6d6d6" text-anchor="start" textLength="7.0" lengthAdjust="spacingAndGlyphs">1.</text>
<text x="73" y="396" font-size="10" fill="#d6d6d6" text-anchor="start" textLength="31" lengthAdjust="spacingAndGlyphs">Januar</text>
<text x="109.6" y="396" font-size="10" fill="#d6d6d6" text-anchor="start" textLength="21.4" lengthAdjust="spacingAndGlyphs">2017</text>
<text x="137" y="396" font-size="10" fill="#d6d6d6" text-anchor="start" textLength="14" lengthAdjust="spacingAndGlyphs">um</text>
<text x="156.4" y="396" font-size="10" fill="#d6d6d6" text-anchor="start" textLength="33.6" lengthAdjust="spacingAndGlyphs">6:40:41</text>
<text x="196.6" y="396" font-size="10" fill="#d6d6d6" text-anchor="start" textLength="16.4" lengthAdjust="spacingAndGlyphs">UTC</text>
<text x="218.4" y="396" font-size="10" fill="#d6d6d6" text-anchor="start" textLength="14.6" lengthAdjust="spacingAndGlyphs">von</text>
<text x="238.4" y="396" font-size="10" fill="#d6d6d6" text-anchor="start" textLength="10.0" lengthAdjust="spacingAndGlyphs">M.</text>
<text x="254" y="396" font-size="10" fill="#d6d6d6" text-anchor="start" textLength="40" lengthAdjust="spacingAndGlyphs">Theusner</text>
<text x="511" y="392.5" font-size="8.5" fill="#d6d6d6" text-anchor="start">*</text>
<text x="517" y="396" font-size="10" fill="#d6d6d6" text-anchor="start" textLength="13" lengthAdjust="spacingAndGlyphs">Gilt</text>
<text x="535.6" y="396" font-size="10" fill="#d6d6d6" text-anchor="start" textLength="10.1" lengthAdjust="spacingAndGlyphs">an</text>
<text x="552.5" y="396" font-size="10" fill="#d6d6d6" text-anchor="start" textLength="31.9" lengthAdjust="spacingAndGlyphs">dunklen</text>
<text x="591.9" y="396" font-size="10" fill="#d6d6d6" text-anchor="start" textLength="22.5" lengthAdjust="spacingAndGlyphs">Orten</text>
<text x="621.9" y="396" font-size="10" fill="#d6d6d6" text-anchor="start" textLength="5.6" lengthAdjust="spacingAndGlyphs">in</text>
<text x="635" y="396" font-size="10" fill="#d6d6d6" text-anchor="start" textLength="26" lengthAdjust="spacingAndGlyphs">gering</text>
<text x="668" y="396" font-size="10" fill="#d6d6d6" text-anchor="start" textLength="46" lengthAdjust="spacingAndGlyphs">bewölkter,</text>
<text x="719.4" y="396" font-size="10" fill="#d6d6d6" text-anchor="start" textLength="43.1" lengthAdjust="spacingAndGlyphs">mondloser</text>
<text x="770" y="396" font-size="10" fill="#d6d6d6" text-anchor="start" textLength="26" lengthAdjust="spacingAndGlyphs">Nacht</text>
</svg></body></html>
